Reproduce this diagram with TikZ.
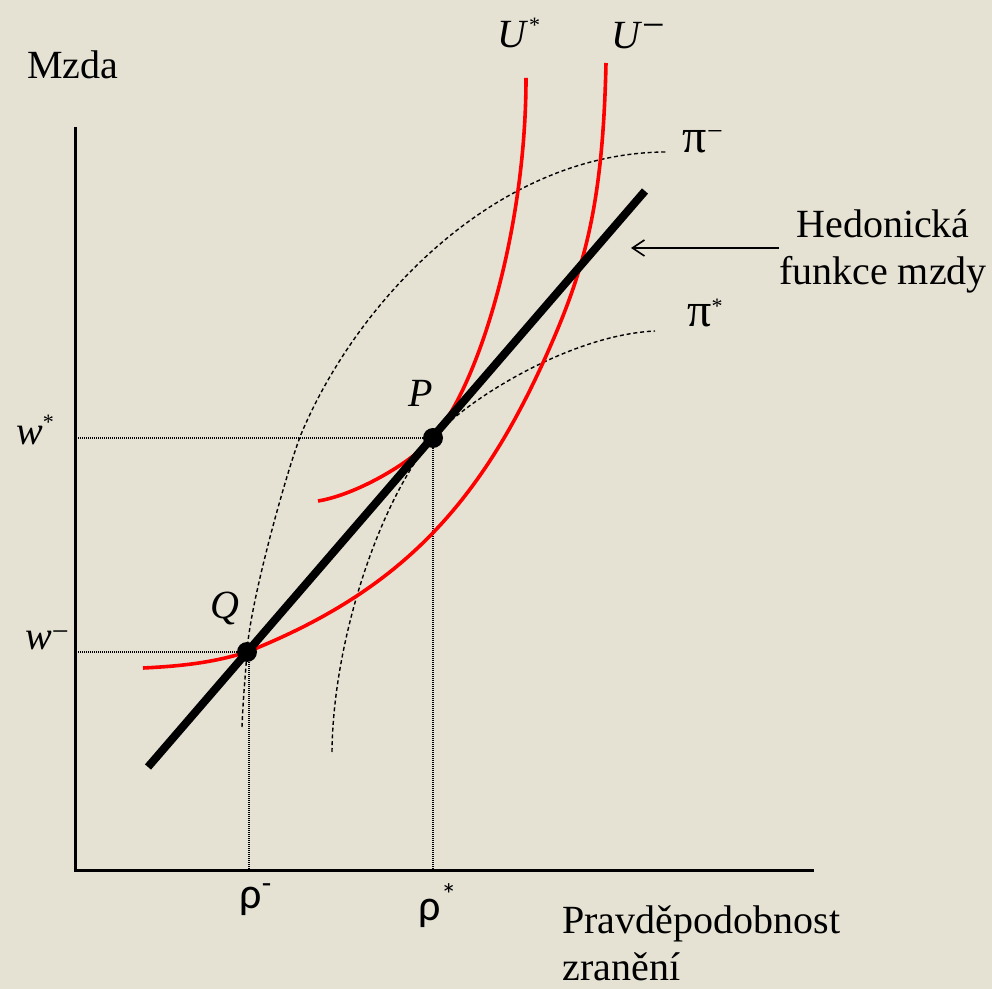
\documentclass[tikz,border=0pt]{standalone}
\usepackage{fontspec}
\setmainfont{Liberation Serif}
\newfontfamily\calibri{Carlito}
\usetikzlibrary{arrows.meta}
\definecolor{Paper}{HTML}{E5E2D3}
\definecolor{Curve}{HTML}{FF0000}
\newcommand{\sstar}[1]{\raisebox{#1}{\fontsize{11}{11}\selectfont *}}

\begin{document}
\begin{tikzpicture}[x=0.5pt,y=-0.5pt,every node/.style={font=\fontsize{20}{23.5}\selectfont,inner sep=0pt}]
\tikzstyle{axis}=[line width=1.5pt]
\tikzstyle{indiff}=[Curve,line width=1.8pt]
\tikzstyle{isoprofit}=[line width=0.7pt,dash pattern=on 2pt off 1.4pt]
\tikzstyle{guide}=[line width=0.7pt,dash pattern=on 0.5pt off 0.5pt]
\tikzstyle{dot}=[circle,fill=black,minimum size=10pt]
\tikzstyle{greek}=[font=\calibri\fontsize{22}{22}\selectfont]
\fill[Paper] (0,0) rectangle (992,989);
\useasboundingbox (0,0) rectangle (992,989);
% axes
\coordinate (o) at (75,871);
\coordinate (ytop) at (75,127);
\coordinate (xend) at (814,871);
\draw[axis] (ytop) -- (o) -- (xend);
% equilibrium points
\coordinate (P) at (433,438);
\coordinate (Q) at (247,652);
\draw[guide] (P) -- (P -| o);
\draw[guide] (P) -- (P |- o);
\draw[guide] (Q) -- (Q -| o);
\draw[guide] ([xshift=1pt]Q) -- ([xshift=1pt]Q |- o);
% isoprofit curves
\draw[isoprofit] (242,727) .. controls (243,700) and (245,680) .. (Q)
  .. controls (250,600) and (290,460) .. (302,432)
  .. controls (360,296) and (500,152) .. (667,152);
\draw[isoprofit] (332,752) .. controls (333,640) and (380,500) .. (P)
  .. controls (466,400) and (570,335) .. (655,331);
% indifference curves
\draw[indiff] (318,501) .. controls (355,495) and (410,464) .. (P)
  .. controls (479,385) and (526,230) .. (526,78);
\draw[indiff] (143,668) .. controls (185,666) and (215,662) .. (Q)
  .. controls (400,591) and (481,505) .. (550,347)
  .. controls (586,265) and (603,200) .. (606,63);
% hedonic wage function
\coordinate (hlo) at (148,767);
\coordinate (hhi) at (645,191);
\draw[line width=4pt] (hlo) -- (hhi);
\node[dot] (Pdot) at (P) {};
\node[dot] (Qdot) at (Q) {};
% labels
\node[anchor=base west] (mzda) at (27,79) {Mzda};
\node[align=left,anchor=base west] (prob) at (562,980) {Pravděpodobnost\\zranění};
\node[align=center,anchor=base] (hed) at (883,285) {Hedonická\\funkce mzdy};
\coordinate (tip) at (631,248);
\draw[line width=0.8pt,-{Straight Barb[length=6pt,width=8pt]}] (hed.west |- tip) -- (tip);
\node (ustar) at (519,33) {\textit{U}\sstar{7.5pt}};
\node (uminus) at (638,36) {\textit{U}\raisebox{5pt}{−}};
\node[font=\fontsize{24}{24}\selectfont] (pminus) at (703,142) {π\raisebox{6pt}{\fontsize{14}{14}\selectfont −}};
\node[font=\fontsize{24}{24}\selectfont] (pstar) at (705,313) {π\sstar{6.5pt}};
\node (wstar) at (35,430) {\textit{w}\sstar{7.5pt}};
\node (wminus) at (47,640) {\textit{w}\raisebox{4pt}{\fontsize{15}{15}\selectfont −}};
\node (Qlab) at (225,609) {\textit{Q}};
\node (Plab) at (421,393) {\textit{P}};
\node[greek] (rminus) at (256,900) {ρ\textsuperscript{-}};
\node[greek] (rstar) at (438,906) {ρ\textsuperscript{*}};
\end{tikzpicture}
\end{document}
